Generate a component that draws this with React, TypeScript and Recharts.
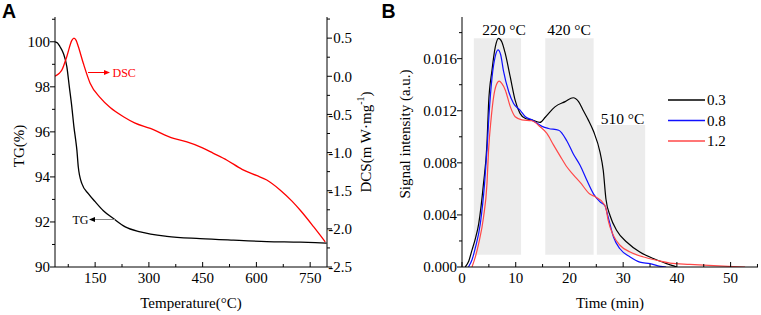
import React from 'react';
import { LineChart, Line, XAxis, YAxis, ReferenceArea } from 'recharts';

const SERIF = '"Liberation Serif", "Times New Roman", Times, serif';
const SANS = '"Liberation Sans", Arial, sans-serif';

// ---------- Panel A data ----------
const TG_TEMP = [38, 45, 52, 61.5, 71, 78, 85, 91, 96, 99, 103, 113, 131, 150, 173, 201, 234, 276, 350, 443, 536, 629, 723, 779, 796];
const TG_VALUES = [100, 99.95, 99.78, 99.48, 98.9, 98.0, 97.1, 96.2, 95.6, 95.2, 94.44, 93.7, 93.26, 92.9, 92.5, 92.15, 91.78, 91.56, 91.36, 91.26, 91.19, 91.13, 91.1, 91.07, 91.06];

const DSC_TEMP = [38, 50, 57, 71, 85, 91, 97, 103, 117, 136, 164, 192, 229, 260, 304, 369, 406, 443, 480, 518, 560, 600, 629, 666, 700, 723, 760, 792];
const DSC_VALUES = [0.0, 0.04, 0.08, 0.26, 0.47, 0.5, 0.47, 0.39, 0.17, -0.09, -0.28, -0.41, -0.53, -0.61, -0.684, -0.815, -0.86, -0.925, -1.01, -1.1, -1.22, -1.3, -1.36, -1.49, -1.64, -1.76, -1.975, -2.17];

const A_X_MAJOR = [150, 300, 450, 600, 750];
const A_X_MINOR = [75, 225, 375, 525, 675];
const A_TG_MAJOR = [90, 92, 94, 96, 98, 100];
const A_TG_MINOR = [91, 93, 95, 97, 99, 101];
const A_DSC_MAJOR = [-2.5, -2.0, -1.5, -1.0, -0.5, 0.0, 0.5];
const A_DSC_MINOR = [-2.25, -1.75, -1.25, -0.75, -0.25, 0.25, 0.75];

// ---------- Panel B data ----------
const SERIES_NAMES = ['0.3', '0.8', '1.2'];
const SERIES_COLORS = ['#000000', '#1010ff', '#ff4848'];

const T_03 = [0.6, 1.2, 1.86, 2.5, 3.1, 4.0, 4.65, 4.95, 5.58, 6.2, 6.8, 7.4, 8.05, 8.98, 9.9, 10.8, 11.8, 13.0, 14.5, 15.5, 17.3, 19.2, 20.7, 21.7, 22.6, 23.5, 24.5, 25.7, 26.3, 26.8, 27.6, 28.8, 30.7, 33.1, 35.6, 38.1, 40];
const V_03 = [0, 0.0004, 0.0013, 0.0022, 0.0033, 0.0064, 0.0095, 0.01256, 0.0151, 0.0169, 0.01756, 0.0173, 0.0164, 0.0146, 0.0128, 0.0118, 0.0114, 0.0113, 0.0111, 0.0115, 0.0123, 0.0127, 0.013, 0.0127, 0.012, 0.0113, 0.0104, 0.0088, 0.0074, 0.0052, 0.0039, 0.0028, 0.0019, 0.00115, 0.00065, 0.00026, 0];

const T_08 = [1.2, 1.9, 2.5, 3.4, 4.2, 4.65, 5.0, 5.6, 6.2, 6.7, 7.2, 7.7, 8.7, 9.6, 10.8, 11.8, 13.0, 14.9, 16.1, 18.0, 19.5, 20.7, 22.0, 23.2, 24.5, 25.7, 26.6, 27.2, 28.2, 29.4, 31.3, 33.1, 35.0, 36.9, 38];
const V_08 = [0, 0.0006, 0.0015, 0.0033, 0.0064, 0.009, 0.0115, 0.0146, 0.0162, 0.01667, 0.0163, 0.0151, 0.01346, 0.01256, 0.01205, 0.01154, 0.0113, 0.0108, 0.01064, 0.0105, 0.0097, 0.0087, 0.0078, 0.0067, 0.0056, 0.005, 0.0047, 0.00385, 0.0023, 0.0014, 0.00077, 0.00038, 0.00026, 0.00005, 0];

const T_12 = [1.86, 2.5, 3.1, 4.0, 4.65, 4.95, 5.4, 5.9, 6.4, 6.93, 7.4, 8.05, 9.0, 9.9, 11.15, 13.0, 14.55, 15.8, 17.0, 18.3, 19.5, 20.7, 22.0, 23.8, 24.8, 26.3, 26.8, 27.2, 28.2, 29.4, 31.3, 33.8, 36.2, 38.7, 42.4, 46.8, 50.5, 52.7];
const V_12 = [0, 0.0008, 0.0018, 0.0038, 0.0064, 0.009, 0.0113, 0.0131, 0.014, 0.01428, 0.0141, 0.0136, 0.0123, 0.01154, 0.0113, 0.01123, 0.01077, 0.01026, 0.0094, 0.0085, 0.0077, 0.0071, 0.0065, 0.0056, 0.0054, 0.0049, 0.0045, 0.0036, 0.0024, 0.00167, 0.00115, 0.00077, 0.00052, 0.0003, 0.0002, 0.0001, 0.00003, 0];

const BANDS = [
  { x1: 2.2, x2: 11.0, y1: 0.00095, y2: 0.01757, label: '220 °C' },
  { x1: 15.5, x2: 24.5, y1: 0.00095, y2: 0.01757, label: '420 °C' },
  { x1: 25.1, x2: 34.1, y1: 0.00095, y2: 0.0109, label: '510 °C' },
];

const B_X_MAJOR = [0, 10, 20, 30, 40, 50];
const B_X_MINOR = [5, 15, 25, 35, 45, 55];
const B_Y_MAJOR = [0, 0.004, 0.008, 0.012, 0.016];
const B_Y_MINOR = [0.002, 0.006, 0.01, 0.014, 0.018];

const zip = (xs: number[], ys: number[]) => xs.map((x, i) => ({ x, v: ys[i] }));
const TG_DATA = zip(TG_TEMP, TG_VALUES);
const DSC_DATA = zip(DSC_TEMP, DSC_VALUES);
const B_DATA = [zip(T_03, V_03), zip(T_08, V_08), zip(T_12, V_12)];

type TickOpts = {
  side: 'bottom' | 'left' | 'right';
  majors: number[];
  fmt: (v: number) => string;
  inward: boolean;
  gap: number;
  rightEnd?: number;
};

const textStyle = { fontFamily: SERIF, fontSize: 15, fill: '#000' } as const;

const makeTick = (o: TickOpts) => (props: any) => {
  const { x, y, payload } = props;
  const v = payload.value;
  const isMajor = o.majors.some((m) => Math.abs(m - v) < 1e-9);
  const len = isMajor ? 5 : 3;
  let line: any;
  let text: any = null;
  if (o.side === 'bottom') {
    line = <line x1={x} y1={y} x2={x} y2={o.inward ? y - len : y + len} stroke="#000" strokeWidth={1} />;
    if (isMajor)
      text = (
        <text x={x} y={y + 16} textAnchor="middle" style={textStyle}>
          {o.fmt(v)}
        </text>
      );
  } else if (o.side === 'left') {
    line = <line x1={x} y1={y} x2={o.inward ? x + len : x - len} y2={y} stroke="#000" strokeWidth={1} />;
    if (isMajor)
      text = (
        <text x={x - o.gap} y={y} dy="0.35em" textAnchor="end" style={textStyle}>
          {o.fmt(v)}
        </text>
      );
  } else {
    line = <line x1={x} y1={y} x2={o.inward ? x - len : x + len} y2={y} stroke="#000" strokeWidth={1} />;
    if (isMajor)
      text = (
        <text x={x + (o.rightEnd ?? 24)} y={y} dy="0.35em" textAnchor="end" style={textStyle}>
          {o.fmt(v)}
        </text>
      );
  }
  return (
    <g>
      {line}
      {text}
    </g>
  );
};

const sortNum = (a: number[]) => [...a].sort((p, q) => p - q);

function PanelA() {
  return (
    <LineChart width={380} height={315} margin={{ top: 17, right: 0, bottom: 0, left: 0 }}>
      <XAxis
        xAxisId="b"
        dataKey="x"
        type="number"
        domain={[38, 797]}
        allowDataOverflow
        ticks={sortNum([...A_X_MAJOR, ...A_X_MINOR])}
        interval={0}
        height={48}
        tickSize={0}
        tickMargin={0}
        tickLine={false}
        axisLine={{ stroke: '#000' }}
        tick={makeTick({ side: 'bottom', majors: A_X_MAJOR, fmt: (v) => String(v), inward: true, gap: 0 })}
      />
      <XAxis xAxisId="t" orientation="top" dataKey="x" type="number" domain={[38, 797]} allowDataOverflow height={0} tick={false} tickLine={false} axisLine={{ stroke: '#000' }} />
      <YAxis
        yAxisId="tg"
        type="number"
        domain={[90, 101.1]}
        allowDataOverflow
        ticks={sortNum([...A_TG_MAJOR, ...A_TG_MINOR.filter((v) => v <= 101.1)])}
        interval={0}
        width={55}
        tickSize={0}
        tickMargin={0}
        tickLine={false}
        axisLine={{ stroke: '#000' }}
        tick={makeTick({ side: 'left', majors: A_TG_MAJOR, fmt: (v) => String(v), inward: false, gap: 5 })}
      />
      <YAxis
        yAxisId="dsc"
        orientation="right"
        type="number"
        domain={[-2.5, 0.777]}
        allowDataOverflow
        ticks={sortNum([...A_DSC_MAJOR, ...A_DSC_MINOR])}
        interval={0}
        width={53}
        tickSize={0}
        tickMargin={0}
        tickLine={false}
        axisLine={{ stroke: '#000' }}
        tick={makeTick({ side: 'right', majors: A_DSC_MAJOR, fmt: (v) => v.toFixed(1), inward: false, gap: 0, rightEnd: 25 })}
      />
      <Line xAxisId="b" yAxisId="tg" data={TG_DATA} dataKey="v" type="monotone" stroke="#000" strokeWidth={1.3} dot={false} isAnimationActive={false} />
      <Line xAxisId="b" yAxisId="dsc" data={DSC_DATA} dataKey="v" type="monotone" stroke="#ff0000" strokeWidth={1.3} dot={false} isAnimationActive={false} />
    </LineChart>
  );
}

function PanelB() {
  return (
    <LineChart width={381} height={315} margin={{ top: 17, right: 3, bottom: 0, left: 0 }}>
      <XAxis
        xAxisId="b"
        dataKey="x"
        type="number"
        domain={[0, 55.1]}
        allowDataOverflow
        ticks={sortNum([...B_X_MAJOR, ...B_X_MINOR])}
        interval={0}
        height={48}
        tickSize={0}
        tickMargin={0}
        tickLine={false}
        axisLine={{ stroke: '#000' }}
        tick={makeTick({ side: 'bottom', majors: B_X_MAJOR, fmt: (v) => String(v), inward: true, gap: 0 })}
      />
      <XAxis xAxisId="t" orientation="top" dataKey="x" type="number" domain={[0, 55.1]} allowDataOverflow height={0} tick={false} tickLine={false} axisLine={{ stroke: '#000' }} />
      <YAxis
        yAxisId="l"
        type="number"
        domain={[0, 0.0192]}
        allowDataOverflow
        ticks={sortNum([...B_Y_MAJOR, ...B_Y_MINOR])}
        interval={0}
        width={82}
        tickSize={0}
        tickMargin={0}
        tickLine={false}
        axisLine={{ stroke: '#000' }}
        tick={makeTick({ side: 'left', majors: B_Y_MAJOR, fmt: (v) => v.toFixed(3), inward: false, gap: 5 })}
      />
      <YAxis yAxisId="r" orientation="right" type="number" domain={[0, 0.0192]} width={0} tick={false} tickLine={false} axisLine={{ stroke: '#000' }} />
      {BANDS.map((b, i) => (
        <ReferenceArea key={i} xAxisId="b" yAxisId="l" x1={b.x1} x2={b.x2} y1={b.y1} y2={b.y2} fill="#ececec" fillOpacity={1} stroke="none" />
      ))}
      {B_DATA.map((d, i) => (
        <Line key={i} xAxisId="b" yAxisId="l" data={d} dataKey="v" name={SERIES_NAMES[i]} type="monotone" stroke={SERIES_COLORS[i]} strokeWidth={1.2} dot={false} isAnimationActive={false} />
      ))}
    </LineChart>
  );
}

function Overlay() {
  const bandLabelPos = [
    { x: 504, y: 35 },
    { x: 569, y: 35 },
    { x: 622.5, y: 124 },
  ];
  const serif = { fontFamily: SERIF } as const;
  return (
    <svg width={761} height={315} style={{ position: 'absolute', left: 0, top: 0, pointerEvents: 'none' }}>
      <text x={2} y={17.5} style={{ fontFamily: SANS, fontWeight: 'bold', fontSize: 19.5 }} fill="#000">A</text>
      <text x={381.5} y={17.5} style={{ fontFamily: SANS, fontWeight: 'bold', fontSize: 19.5 }} fill="#000">B</text>

      <text x={19} y={146} transform="rotate(-90 19 146)" textAnchor="middle" dominantBaseline="central" style={{ ...serif, fontSize: 15 }}>TG(%)</text>
      <text x={366} y={142} transform="rotate(-90 366 142)" textAnchor="middle" dominantBaseline="central" style={{ ...serif, fontSize: 15 }}>
        DCS(m W·mg<tspan style={{ fontSize: 10 }} dy={-6}>-1</tspan><tspan dy={6}>)</tspan>
      </text>
      <text x={191} y={308} textAnchor="middle" style={{ ...serif, fontSize: 15 }}>Temperature(°C)</text>

      <text x={405} y={134} transform="rotate(-90 405 134)" textAnchor="middle" dominantBaseline="central" style={{ ...serif, fontSize: 15 }}>Signal intensity (a.u.)</text>
      <text x={610} y={308} textAnchor="middle" style={{ ...serif, fontSize: 15 }}>Time (min)</text>

      {BANDS.map((b, i) => (
        <text key={i} x={bandLabelPos[i].x} y={bandLabelPos[i].y} textAnchor="middle" style={{ ...serif, fontSize: 15.5 }}>{b.label}</text>
      ))}

      {SERIES_NAMES.map((n, i) => (
        <g key={n}>
          <line x1={668} x2={705} y1={100 + i * 20.5} y2={100 + i * 20.5} stroke={SERIES_COLORS[i]} strokeWidth={1.5} />
          <text x={707} y={100 + i * 20.5} dy="0.35em" style={{ ...serif, fontSize: 15 }}>{n}</text>
        </g>
      ))}

      {/* DSC annotation */}
      <line x1={88} y1={72.5} x2={106} y2={72.5} stroke="#ff0000" strokeWidth={1} />
      <polygon points="110,72.5 104,70 104,75" fill="#ff0000" />
      <text x={112.5} y={76.5} style={{ ...serif, fontSize: 12 }} fill="#ff0000">DSC</text>

      {/* TG annotation */}
      <line x1={93} y1={219.5} x2={115} y2={219.5} stroke="#888" strokeWidth={1} />
      <polygon points="89,219.5 95,217 95,222" fill="#000" />
      <text x={72.5} y={223.5} style={{ ...serif, fontSize: 12 }} fill="#000">TG</text>
    </svg>
  );
}

export default function App() {
  return (
    <div style={{ position: 'absolute', left: 0, top: 0, width: 761, height: 315, background: '#fff', overflow: 'hidden' }}>
      <div style={{ position: 'absolute', left: 0, top: 0 }}>
        <PanelA />
      </div>
      <div style={{ position: 'absolute', left: 380, top: 0 }}>
        <PanelB />
      </div>
      <Overlay />
    </div>
  );
}
